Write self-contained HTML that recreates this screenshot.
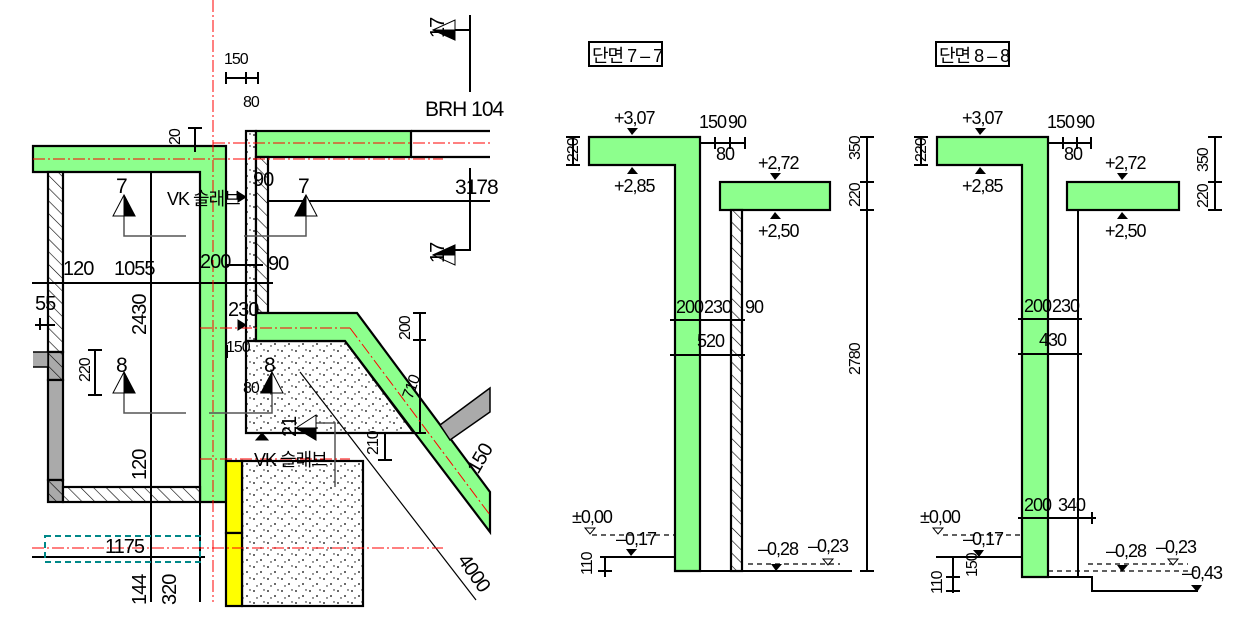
<!DOCTYPE html>
<html><head><meta charset="utf-8"><style>
html,body{margin:0;padding:0;background:#fff;}
svg{display:block;}
text{font-family:"Liberation Sans Narrow","Liberation Sans","Noto Sans CJK KR",sans-serif;font-size:18px;fill:#000;letter-spacing:-1px;}
.s{font-size:16px;}
</style></head><body>
<svg width="1245" height="622" viewBox="0 0 1245 622" xmlns="http://www.w3.org/2000/svg">
<defs>
<pattern id="h" patternUnits="userSpaceOnUse" width="9" height="9" patternTransform="rotate(-45)">
<rect width="9" height="9" fill="#fff"/><line x1="0" y1="0" x2="0" y2="9" stroke="#000" stroke-width="1.2"/></pattern>
<pattern id="hg" patternUnits="userSpaceOnUse" width="9" height="9" patternTransform="rotate(-45)">
<rect width="9" height="9" fill="#aaa"/><line x1="0" y1="0" x2="0" y2="9" stroke="#000" stroke-width="1.2"/></pattern>
<pattern id="d" patternUnits="userSpaceOnUse" width="14" height="12">
<rect width="14" height="12" fill="#fff"/><circle cx="2" cy="3" r="0.9" fill="#000"/><circle cx="9" cy="8" r="0.9" fill="#000"/><circle cx="12" cy="2" r="0.7" fill="#000"/><circle cx="5" cy="10" r="0.7" fill="#000"/></pattern>
</defs>

<!-- ===== LEFT PLAN ===== -->
<g stroke="#000" stroke-width="2.2">
<path d="M33,146 H226 V502 H200 V172 H33 Z" fill="#8dff8d"/>
<rect x="48" y="172" width="15" height="180" fill="url(#h)"/>
<rect x="48" y="352" width="15" height="28" fill="url(#hg)"/>
<rect x="48" y="380" width="15" height="100" fill="#aaa"/>
<rect x="48" y="480" width="15" height="22" fill="url(#hg)"/>
<rect x="63" y="487" width="137" height="15" fill="url(#h)"/>
<path d="M33,352 H48 V367 H33" fill="#aaa" stroke-width="1.5"/>
<rect x="246" y="131" width="10" height="210" fill="url(#d)"/>
<rect x="256" y="131" width="155" height="26" fill="#8dff8d"/>
<path d="M411,131 H490 M411,157 H490" fill="none"/>
<rect x="256" y="157" width="12" height="156" fill="url(#h)"/>
<path d="M246,341 H345 L414,433 H246 Z" fill="url(#d)"/>
<path d="M256,313 H357 L490,492 V532 L345,341 H256 Z" fill="#8dff8d"/>
<path d="M440,425 L490,388 V412 L450,440 Z" fill="#aaa" stroke-width="1.5"/>
<rect x="242" y="461" width="121" height="145" fill="url(#d)"/>
<rect x="226" y="461" width="16" height="72" fill="#ff0"/>
<rect x="226" y="533" width="16" height="73" fill="#ff0"/>
</g>
<g stroke="#000" stroke-width="2" fill="none">
<path d="M32,283 H273"/>
<path d="M151,172 V602"/>
<path d="M200,502 V602"/>
<path d="M32,557 H205"/>
<path d="M268,201 H490"/>
<path d="M420,433 V313 M413,313 H426 M413,340 H426 M413,433 H426"/>
<path d="M385,433 V460 M378,460 H392"/>
<path d="M225,265 H263 M227,345 V358"/>
<path d="M195,140 V128 M195,140 V152 M188,128 H202"/>
<path d="M226,78 H258 M226,72 V84 M246,72 V84 M258,72 V84"/>
<path d="M470,15 V92 M470,168 V250 H455 M470,30 H455"/>
<path d="M95,350 V395 M88,350 H102 M88,395 H102"/>
<path d="M40,330 V318"/>
<path d="M35,325 H55"/>
</g>
<g stroke="#555" stroke-width="1.5" fill="none">
<path d="M124,213 V236 H186 M244,236 H306 V213"/>
<path d="M124,390 V413 H186 M209,413 H272 V390"/>
<path d="M315,423 H335 V487"/>
</g>
<path d="M300,372 L476,600" stroke="#000" stroke-width="1.2"/>
<g stroke="#f00" stroke-width="1" fill="none" stroke-dasharray="12,3,2,3">
<path d="M213,0 V602"/>
<path d="M33,159 H443"/>
<path d="M213,143 H490"/>
<path d="M200,328 H350"/>
<path d="M200,459 H350"/>
<path d="M32,548 H443"/>
<path d="M350,328 L490,515"/>
</g>
<rect x="45" y="536" width="155" height="26" fill="none" stroke="#088" stroke-width="2" stroke-dasharray="6,4"/>
<g fill="#000" stroke="#000" stroke-width="1">
<path d="M124,195 L113,216 H135 Z" fill="#fff"/><path d="M124,195 V216 H135 Z"/>
<path d="M306,195 L295,216 H317 Z" fill="#fff"/><path d="M306,195 V216 H295 Z"/>
<path d="M124,372 L113,393 H135 Z" fill="#fff"/><path d="M124,372 V393 H135 Z"/>
<path d="M272,372 L261,393 H283 Z" fill="#fff"/><path d="M272,372 V393 H261 Z"/>
<path d="M433,30 L455,20 V40 Z" fill="#fff"/><path d="M433,30 H455 V40 Z"/>
<path d="M433,255 L455,245 V265 Z" fill="#fff"/><path d="M433,255 H455 V245 Z"/>
<path d="M296,428 L316,415 V440 Z" fill="#fff"/><path d="M296,428 H316 V440 Z"/>
<path d="M238,192 L246,197 L238,202 Z"/>
<path d="M238,320 L246,325 L238,330 Z"/>
<path d="M262,433 L268,440 H256 Z"/>
</g>
<text x="224" y="64" class="s">150</text>
<text x="243" y="107" class="s">80</text>
<text x="425" y="116" style="font-size:21px">BRH 104</text>
<text x="455" y="194" style="font-size:21px">3178</text>
<text x="116" y="193" style="font-size:21px">7</text>
<text x="298" y="193" style="font-size:21px">7</text>
<text x="167" y="205">VK 슬래브</text>
<text x="253" y="186" style="font-size:20px">90</text>
<text x="268" y="270" style="font-size:20px">90</text>
<text x="200" y="268" style="font-size:20px">200</text>
<text x="63" y="275" style="font-size:20px">120</text>
<text x="114" y="275" style="font-size:20px">1055</text>
<text x="35" y="310" style="font-size:20px">55</text>
<text x="228" y="316" style="font-size:20px">230</text>
<text x="226" y="352" class="s">150</text>
<text x="243" y="393" class="s">80</text>
<text x="116" y="372" style="font-size:21px">8</text>
<text x="264" y="372" style="font-size:21px">8</text>
<text x="254" y="466">VK 슬래브</text>
<text x="105" y="553" style="font-size:20px">1175</text>
<text transform="translate(146,335) rotate(-90)" style="font-size:20px">2430</text>
<text transform="translate(90,382) rotate(-90)" class="s">220</text>
<text transform="translate(146,480) rotate(-90)" style="font-size:20px">120</text>
<text transform="translate(146,605) rotate(-90)" style="font-size:20px">144</text>
<text transform="translate(176,605) rotate(-90)" style="font-size:20px">320</text>
<text transform="translate(180,145) rotate(-90)" class="s">20</text>
<text transform="translate(444,38) rotate(-90)" style="font-size:20px">17</text>
<text transform="translate(444,263) rotate(-90)" style="font-size:20px">17</text>
<text transform="translate(296,437) rotate(-90)" style="font-size:20px">21</text>
<text transform="translate(378,455) rotate(-90)" class="s">210</text>
<text transform="translate(410,340) rotate(-90)" class="s">200</text>
<text transform="translate(412,400) rotate(-70)" class="s">710</text>
<text transform="translate(478,475) rotate(-60)" style="font-size:20px">150</text>
<text transform="translate(457,560) rotate(55)" style="font-size:20px">4000</text>

<!-- ===== SECTION 7-7 ===== -->
<rect x="589" y="42" width="73" height="24" fill="#fff" stroke="#000" stroke-width="2"/>
<text x="592" y="62">단면 7 – 7</text>
<g stroke="#000" stroke-width="2.2">
<path d="M589,137 H700 V571 H675 V165 H589 Z" fill="#8dff8d"/>
<rect x="720" y="182" width="110" height="28" fill="#8dff8d"/>
<rect x="731" y="210" width="11" height="361" fill="url(#h)"/>
</g>
<g stroke="#000" stroke-width="2" fill="none">
<path d="M573,137 V165 M566,137 H580 M566,165 H580"/>
<path d="M700,143 H745 M715,137 V149 M730,137 V149 M745,137 V149"/>
<path d="M867,137 V571 M860,137 H874 M860,182 H874 M860,210 H874 M860,571 H874"/>
<path d="M670,320 H745 M670,355 H745"/>
<path d="M600,557 H675"/>
<path d="M605,557 V577 M598,571 H612"/>
<path d="M700,571 H852"/>
</g>
<g stroke="#000" stroke-width="1.2" fill="none" stroke-dasharray="5,4">
<path d="M592,535 H675"/><path d="M748,564 H840"/>
</g>
<g fill="#000">
<path d="M627,128 H638 L632,135 Z"/><path d="M627,174 H638 L632,167 Z"/>
<path d="M770,173 H781 L775,180 Z"/><path d="M770,219 H781 L775,212 Z"/>
<path d="M626,549 H637 L631,556 Z"/><path d="M771,564 H782 L776,571 Z"/>
<path d="M585,528 H595 L590,534 Z" fill="#fff" stroke="#000"/>
<path d="M823,559 H833 L828,565 Z" fill="#fff" stroke="#000"/>
</g>
<text x="614" y="124">+3,07</text>
<text x="614" y="192">+2,85</text>
<text x="699" y="128">150</text>
<text x="728" y="128">90</text>
<text x="716" y="160">80</text>
<text x="758" y="169">+2,72</text>
<text x="758" y="237">+2,50</text>
<text x="676" y="313">200</text>
<text x="704" y="313">230</text>
<text x="745" y="313">90</text>
<text x="697" y="347">520</text>
<text x="572" y="523">±0,00</text>
<text x="616" y="545">–0,17</text>
<text x="758" y="555">–0,28</text>
<text x="808" y="552">–0,23</text>
<text transform="translate(578,162) rotate(-90)" class="s">220</text>
<text transform="translate(860,160) rotate(-90)" class="s">350</text>
<text transform="translate(860,207) rotate(-90)" class="s">220</text>
<text transform="translate(860,375) rotate(-90)" class="s">2780</text>
<text transform="translate(592,575) rotate(-90)" class="s">110</text>

<!-- ===== SECTION 8-8 ===== -->
<rect x="936" y="42" width="73" height="24" fill="#fff" stroke="#000" stroke-width="2"/>
<text x="939" y="62">단면 8 – 8</text>
<g stroke="#000" stroke-width="2.2">
<path d="M937,137 H1048 V577 H1022 V165 H937 Z" fill="#8dff8d"/>
<rect x="1067" y="182" width="112" height="28" fill="#8dff8d"/>
</g>
<g stroke="#000" stroke-width="2" fill="none">
<path d="M1078,210 V577"/>
<path d="M921,137 V165 M914,137 H928 M914,165 H928"/>
<path d="M1048,143 H1092 M1063,137 V149 M1077,137 V149 M1091,137 V149"/>
<path d="M1215,137 V210 M1208,137 H1222 M1208,182 H1222 M1208,210 H1222"/>
<path d="M1018,319 H1082 M1018,354 H1082"/>
<path d="M1018,518 H1096 M1092,512 V524"/>
<path d="M936,557 H1022"/>
<path d="M953,557 V593 M946,557 H960 M946,577 H960 M946,591 H960"/>
<path d="M1048,577 H1092 V591 H1198"/>
</g>
<g stroke="#000" stroke-width="1.2" fill="none" stroke-dasharray="5,4">
<path d="M943,535 H1020"/><path d="M1088,564 H1188"/><path d="M1048,571 H1200"/>
</g>
<g fill="#000">
<path d="M975,128 H986 L980,135 Z"/><path d="M975,174 H986 L980,167 Z"/>
<path d="M1117,173 H1128 L1122,180 Z"/><path d="M1117,219 H1128 L1122,212 Z"/>
<path d="M973,550 H984 L979,557 Z"/><path d="M1117,565 H1128 L1122,572 Z"/>
<path d="M1191,585 H1202 L1197,592 Z"/>
<path d="M933,528 H943 L938,534 Z" fill="#fff" stroke="#000"/>
<path d="M1168,559 H1178 L1173,565 Z" fill="#fff" stroke="#000"/>
</g>
<text x="962" y="124">+3,07</text>
<text x="962" y="192">+2,85</text>
<text x="1047" y="128">150</text>
<text x="1076" y="128">90</text>
<text x="1064" y="160">80</text>
<text x="1105" y="169">+2,72</text>
<text x="1105" y="237">+2,50</text>
<text x="1024" y="312">200</text>
<text x="1052" y="312">230</text>
<text x="1039" y="346">430</text>
<text x="1024" y="511">200</text>
<text x="1058" y="511">340</text>
<text x="920" y="523">±0,00</text>
<text x="963" y="545">–0,17</text>
<text x="1106" y="557">–0,28</text>
<text x="1156" y="553">–0,23</text>
<text x="1182" y="579">–0,43</text>
<text transform="translate(926,162) rotate(-90)" class="s">220</text>
<text transform="translate(1208,172) rotate(-90)" class="s">350</text>
<text transform="translate(1208,208) rotate(-90)" class="s">220</text>
<text transform="translate(942,594) rotate(-90)" class="s">110</text>
<text transform="translate(977,577) rotate(-90)" class="s">150</text>
</svg>
</body></html>
